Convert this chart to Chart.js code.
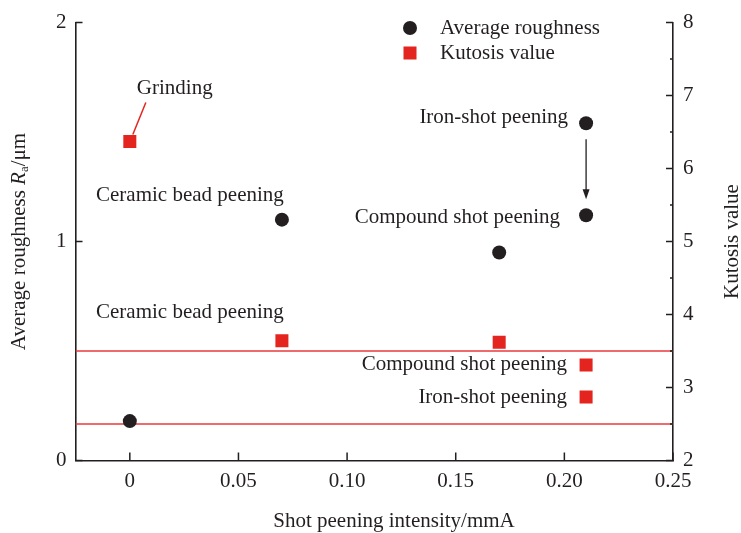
<!DOCTYPE html>
<html>
<head>
<meta charset="utf-8">
<script src="https://cdn.jsdelivr.net/npm/chart.js@4.4.0/dist/chart.umd.min.js"></script>
<style>
  html, body { margin: 0; padding: 0; background: #ffffff; }
  #wrap { width: 741px; height: 533px; }
</style>
</head>
<body>
<div id="wrap"><canvas id="chart" width="741" height="533"></canvas></div>
<script>
// Shot peening intensity (mmA) for each specimen
const intensity = [0, 0.07, 0.17, 0.21, 0.21];
// Average roughness Ra (um), left axis
const roughness = [0.18, 1.10, 0.95, 1.54, 1.12];
// Kurtosis value, right axis
const kurtosis = [6.37, 3.64, 3.62, 3.31, 2.87];
// Horizontal reference levels on the kurtosis axis
const kurtosisLevels = [3.5, 2.5];

// Axis ranges and tick labels
const xRange = [-0.025, 0.25];
const xTicks = [0, 0.05, 0.10, 0.15, 0.20, 0.25];
const xTickLabels = ['0', '0.05', '0.10', '0.15', '0.20', '0.25'];
const roughRange = [0, 2];
const roughTicks = [0, 1, 2];
const kurtRange = [2, 8];
const kurtTicks = [2, 3, 4, 5, 6, 7, 8];
const kurtMinorTicks = [2.5, 3.5, 4.5, 5.5, 6.5, 7.5];

// Process names attached to points
const roughnessNames = ['', 'Ceramic bead peening', '', 'Iron-shot peening', 'Compound shot peening'];
const kurtosisNames = ['Grinding', 'Ceramic bead peening', '', 'Compound shot peening', 'Iron-shot peening'];

const seriesNames = ['Average roughness', 'Kutosis value'];
const xTitle = 'Shot peening intensity/mmA';
const kTitle = 'Kutosis value';

const INK = '#231f20';
const RED = '#e4251f';
const FONT = '"Liberation Serif", "Times New Roman", serif';
const FS = 21;

// Label placement (pixel offsets from the point each label belongs to)
const roughLabelPlace = {
  1: { dx: -92, dy: -24, align: 'center' },
  3: { dx: -18, dy: -6, align: 'right' },
  4: { dx: -26, dy: 2, align: 'right' }
};
const kurtLabelPlace = {
  0: { dx: 7, dy: -53, align: 'left' },
  1: { dx: -92, dy: -28, align: 'center' },
  3: { dx: -19, dy: 0, align: 'right' },
  4: { dx: -19, dy: 0, align: 'right' }
};

const pts = (xs, ys) => xs.map((x, i) => ({ x: x, y: ys[i] }));

const datasets = [
  {
    label: seriesNames[0],
    data: pts(intensity, roughness),
    yAxisID: 'yR',
    backgroundColor: INK,
    borderWidth: 0,
    pointRadius: 7,
    pointHoverRadius: 7,
    order: 1
  },
  {
    label: seriesNames[1],
    data: pts(intensity, kurtosis),
    yAxisID: 'yK',
    pointStyle: 'rect',
    backgroundColor: RED,
    borderWidth: 0,
    pointRadius: 9.2,
    pointHoverRadius: 9.2,
    order: 1
  }
];
kurtosisLevels.forEach(v => {
  datasets.push({
    type: 'line',
    label: 'level ' + v,
    data: [{ x: xRange[0], y: v }, { x: xRange[1], y: v }],
    yAxisID: 'yK',
    borderColor: '#e8383b',
    borderWidth: 1.5,
    pointRadius: 0,
    fill: false,
    order: 3
  });
});

function setTicks(values) {
  return scale => { scale.ticks = values.map(v => ({ value: v })); };
}

// Inward tick marks, labels, arrow, legend and axis titles
const decorations = {
  id: 'decorations',
  afterDraw(chart) {
    const ctx = chart.ctx;
    const x = chart.scales.x, yR = chart.scales.yR, yK = chart.scales.yK;
    const area = chart.chartArea;
    ctx.save();

    // tick marks pointing into the plot
    ctx.strokeStyle = INK;
    ctx.lineWidth = 1.5;
    ctx.beginPath();
    xTicks.forEach(v => {
      const px = x.getPixelForValue(v);
      ctx.moveTo(px, area.bottom); ctx.lineTo(px, area.bottom - 8);
    });
    roughTicks.forEach(v => {
      const py = yR.getPixelForValue(v);
      ctx.moveTo(area.left, py); ctx.lineTo(area.left + 7, py);
    });
    kurtTicks.forEach(v => {
      const py = yK.getPixelForValue(v);
      ctx.moveTo(area.right, py); ctx.lineTo(area.right - 7, py);
    });
    kurtMinorTicks.forEach(v => {
      const py = yK.getPixelForValue(v);
      ctx.moveTo(area.right, py); ctx.lineTo(area.right - 3, py);
    });
    ctx.stroke();

    ctx.font = FS + 'px ' + FONT;
    ctx.fillStyle = INK;
    ctx.textBaseline = 'middle';

    // point labels
    const drawLabel = (text, px, py, place) => {
      ctx.textAlign = place.align;
      ctx.fillText(text, px + place.dx, py + place.dy);
    };
    roughnessNames.forEach((name, i) => {
      if (!name || !roughLabelPlace[i]) return;
      drawLabel(name, x.getPixelForValue(intensity[i]), yR.getPixelForValue(roughness[i]), roughLabelPlace[i]);
    });
    kurtosisNames.forEach((name, i) => {
      if (!name || !kurtLabelPlace[i]) return;
      drawLabel(name, x.getPixelForValue(intensity[i]), yK.getPixelForValue(kurtosis[i]), kurtLabelPlace[i]);
    });

    // leader line from "Grinding" to its marker
    const gx = x.getPixelForValue(intensity[0]), gy = yK.getPixelForValue(kurtosis[0]);
    ctx.strokeStyle = RED;
    ctx.lineWidth = 1.5;
    ctx.beginPath();
    ctx.moveTo(gx + 3, gy - 7);
    ctx.lineTo(gx + 16, gy - 39);
    ctx.stroke();

    // arrow from iron-shot to compound-shot roughness
    const ax = x.getPixelForValue(intensity[3]);
    const ay0 = yR.getPixelForValue(roughness[3]) + 16;
    const ay1 = yR.getPixelForValue(roughness[4]) - 16;
    ctx.strokeStyle = INK;
    ctx.fillStyle = INK;
    ctx.lineWidth = 1.3;
    ctx.beginPath();
    ctx.moveTo(ax, ay0); ctx.lineTo(ax, ay1 - 8);
    ctx.stroke();
    ctx.beginPath();
    ctx.moveTo(ax - 3.5, ay1 - 10);
    ctx.lineTo(ax + 3.5, ay1 - 10);
    ctx.lineTo(ax, ay1);
    ctx.closePath();
    ctx.fill();

    // legend
    ctx.fillStyle = INK;
    ctx.beginPath();
    ctx.arc(410, 28, 7, 0, Math.PI * 2);
    ctx.fill();
    ctx.fillStyle = RED;
    ctx.fillRect(403.5, 46.5, 13, 13);
    ctx.fillStyle = INK;
    ctx.textAlign = 'left';
    ctx.fillText(seriesNames[0], 440, 28);
    ctx.fillText(seriesNames[1], 440, 53);

    // x-axis title
    ctx.textAlign = 'center';
    ctx.fillText(xTitle, 394, 521);

    // right axis title
    const midY = (area.top + area.bottom) / 2;
    ctx.save();
    ctx.translate(732, midY);
    ctx.rotate(-Math.PI / 2);
    ctx.fillText(kTitle, 0, 0);
    ctx.restore();

    // left axis title with italic R and subscript a
    const parts = [
      { t: 'Average roughness ', f: FS + 'px ' + FONT, dy: 0 },
      { t: 'R', f: 'italic ' + FS + 'px ' + FONT, dy: 0 },
      { t: 'a', f: '13px ' + FONT, dy: 6 },
      { t: '/\u03bcm', f: FS + 'px ' + FONT, dy: 0 }
    ];
    let total = 0;
    parts.forEach(p => { ctx.font = p.f; p.w = ctx.measureText(p.t).width; total += p.w; });
    ctx.save();
    ctx.translate(19, midY);
    ctx.rotate(-Math.PI / 2);
    ctx.textAlign = 'left';
    let cx = -total / 2;
    parts.forEach(p => {
      ctx.font = p.f;
      ctx.fillText(p.t, cx, p.dy);
      cx += p.w;
    });
    ctx.restore();

    ctx.restore();
  }
};

new Chart(document.getElementById('chart'), {
  type: 'scatter',
  data: { datasets: datasets },
  options: {
    responsive: false,
    animation: false,
    devicePixelRatio: 1,
    layout: { padding: { top: 22, left: 0, right: 0, bottom: 0 } },
    plugins: {
      legend: { display: false },
      tooltip: { enabled: false }
    },
    scales: {
      x: {
        type: 'linear',
        position: 'bottom',
        min: xRange[0],
        max: xRange[1],
        afterBuildTicks: setTicks(xTicks),
        afterFit: s => { s.height = 72.5; },
        grid: { display: false, drawTicks: false },
        border: { display: true, color: INK, width: 1.6 },
        ticks: {
          color: INK,
          font: { family: FONT, size: FS },
          padding: 8,
          maxRotation: 0,
          autoSkip: false,
          callback: (v) => {
            const i = xTicks.findIndex(t => Math.abs(t - v) < 1e-9);
            return i >= 0 ? xTickLabels[i] : '';
          }
        }
      },
      yR: {
        type: 'linear',
        position: 'left',
        min: roughRange[0],
        max: roughRange[1],
        afterBuildTicks: setTicks(roughTicks),
        afterFit: s => { s.width = 75.5; },
        grid: { display: false, drawTicks: false },
        border: { display: true, color: INK, width: 1.6 },
        ticks: { color: INK, font: { family: FONT, size: FS }, padding: 9, autoSkip: false }
      },
      yK: {
        type: 'linear',
        position: 'right',
        min: kurtRange[0],
        max: kurtRange[1],
        afterBuildTicks: setTicks(kurtTicks),
        afterFit: s => { s.width = 68; },
        grid: { display: false, drawTicks: false },
        border: { display: true, color: INK, width: 1.6 },
        ticks: { color: INK, font: { family: FONT, size: FS }, padding: 10, autoSkip: false }
      }
    }
  },
  plugins: [decorations]
});
</script>
</body>
</html>
